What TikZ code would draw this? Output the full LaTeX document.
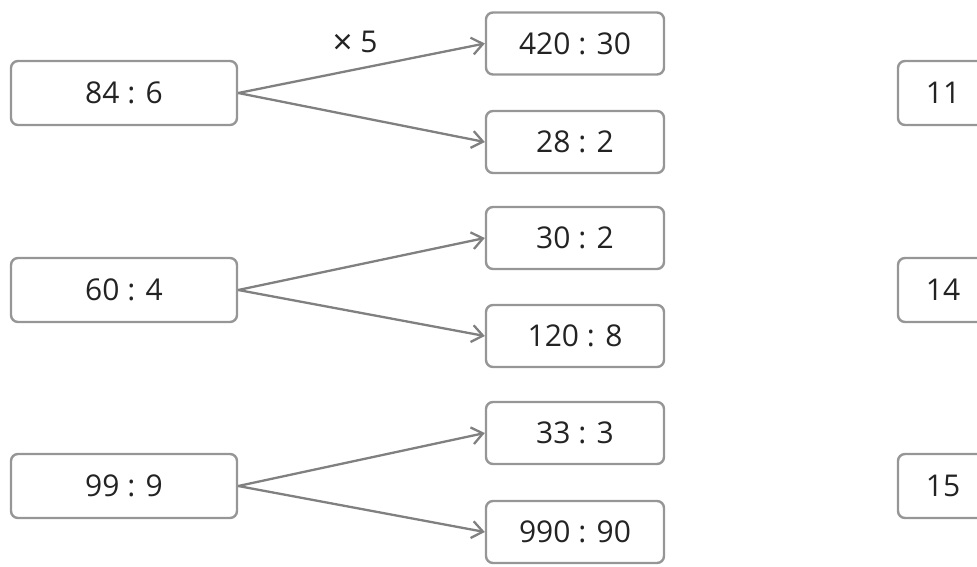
\documentclass[tikz,border=0pt]{standalone}
\usepackage{fontspec}
\setmainfont{Open Sans}
\usetikzlibrary{arrows.meta}
\tikzset{>={Straight Barb[length=11pt,width=17pt]}}
\definecolor{boxgray}{RGB}{150,150,150}
\definecolor{arrowgray}{RGB}{128,128,128}
\definecolor{textdark}{RGB}{35,35,35}
\tikzset{
  quot/.style={draw=boxgray, line width=2.4pt, rounded corners=7pt, text=textdark,
    font=\fontsize{30}{36}\selectfont, inner sep=0pt},
  quotleft/.style={quot, minimum width=226pt, minimum height=64pt},
  quotright/.style={quot, minimum width=178pt, minimum height=62pt},
  link/.style={->, draw=arrowgray, line width=2.3pt}
}

\begin{document}
\begin{tikzpicture}[x=1pt, y=-1pt]
    \useasboundingbox (0, 0) rectangle (977, 566);
    \clip (0, 0) rectangle (977, 566);
    % first row
    \node[quotleft](q84) at (124, 93){84 : 6};
    \node[quotright](q420) at (575, 43.5){420 : 30};
    \node[quotright](q28) at (575, 142){28 : 2};
    \draw[link](q84.east)--(q420.west);
    \draw[link](q84.east)--(q28.west);
    \node[text=textdark, font=\fontsize{30}{36}\selectfont](times) at (355, 43){{\fontsize{35}{35}\selectfont\raisebox{-2.5pt}{×}} 5};
    % second row
    \node[quotleft](q60) at (124, 290){60 : 4};
    \node[quotright](q30) at (575, 238){30 : 2};
    \node[quotright](q120) at (575, 336){120 : 8};
    \draw[link](q60.east)--(q30.west);
    \draw[link](q60.east)--(q120.west);
    % third row
    \node[quotleft](q99) at (124, 486){99 : 9};
    \node[quotright](q33) at (575, 433){33 : 3};
    \node[quotright](q990) at (575, 532){990 : 90};
    \draw[link](q99.east)--(q33.west);
    \draw[link](q99.east)--(q990.west);
    % results, cut at the edge
    \node[quot, minimum width=90pt, minimum height=64pt](r11) at (943, 93){11};
    \node[quot, minimum width=90pt, minimum height=64pt](r14) at (943, 290){14};
    \node[quot, minimum width=90pt, minimum height=64pt](r15) at (943, 486){15};
\end{tikzpicture}
\end{document}
